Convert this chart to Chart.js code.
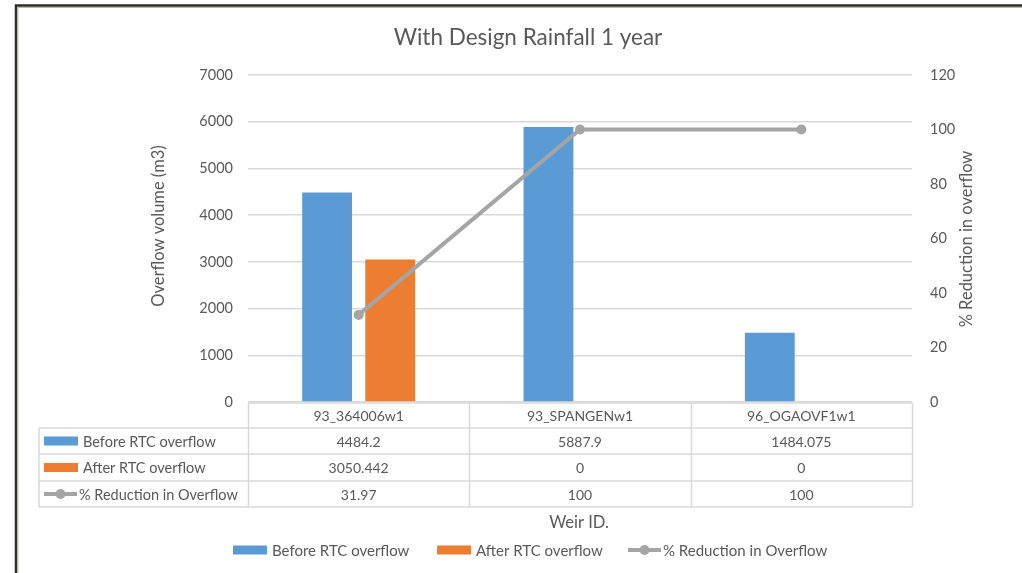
<!DOCTYPE html>
<html>
<head>
<meta charset="utf-8">
<script src="https://cdn.jsdelivr.net/npm/chart.js@4/dist/chart.umd.min.js"></script>
<style>
  html, body { margin: 0; padding: 0; background: #fff; }
  #wrap { width: 1022px; height: 573px; position: relative; }
</style>
</head>
<body>
<div id="wrap"><canvas id="c" width="1022" height="573"></canvas></div>
<script>
// Weir IDs and overflow results
const categories = ['93_364006w1', '93_SPANGENw1', '96_OGAOVF1w1'];
const beforeRTC = [4484.2, 5887.9, 1484.075];
const afterRTC = [3050.442, 0, 0];
const reductionPct = [31.97, 100, 100];

const seriesNames = ['Before RTC overflow', 'After RTC overflow', '% Reduction in Overflow'];
const chartTitle = 'With Design Rainfall 1 year';
const leftAxisTitle = 'Overflow volume (m3)';
const rightAxisTitle = '% Reduction in overflow';
const xAxisTitle = 'Weir ID.';

const BLUE = '#5b9bd5', ORANGE = '#ed7d31', GREY = '#a5a5a5';
const TEXT = '#595959', RULE = '#d9d9d9';
const FONT = 'Lato, "Liberation Sans", sans-serif';

function swatch(ctx, kind, x, y) {
  if (kind === 2) {
    ctx.strokeStyle = GREY; ctx.lineWidth = 4; ctx.lineCap = 'butt';
    ctx.beginPath(); ctx.moveTo(x, y); ctx.lineTo(x + 33, y); ctx.stroke();
    ctx.fillStyle = GREY;
    ctx.beginPath(); ctx.arc(x + 16.5, y, 5, 0, Math.PI * 2); ctx.fill();
  } else {
    ctx.fillStyle = kind === 0 ? BLUE : ORANGE;
    ctx.fillRect(x, y - 4.5, 34, 9);
  }
}

// Data table under the plot, legend, titles and frame
const decorations = {
  id: 'decorations',
  afterDraw(chart) {
    const ctx = chart.ctx;
    const xs = chart.scales.x;
    const area = chart.chartArea;
    const n = categories.length;
    const colW = (area.right - area.left) / n;
    const tableLeft = 39;
    const rows = [area.bottom + 1, 428, 454, 481, 507];
    ctx.save();

    // grid of the table
    ctx.strokeStyle = RULE; ctx.lineWidth = 1.5;
    ctx.beginPath();
    ctx.moveTo(area.left, rows[0]); ctx.lineTo(area.right, rows[0]);
    for (let r = 1; r < rows.length; r++) {
      ctx.moveTo(tableLeft, rows[r]); ctx.lineTo(area.right, rows[r]);
    }
    ctx.moveTo(tableLeft, rows[1]); ctx.lineTo(tableLeft, rows[4]);
    for (let i = 0; i <= n; i++) {
      const x = Math.round(area.left + colW * i) + 0.5;
      ctx.moveTo(x, rows[0]); ctx.lineTo(x, rows[4]);
    }
    ctx.stroke();

    // table text
    ctx.fillStyle = TEXT;
    ctx.font = '14px ' + FONT;
    ctx.textAlign = 'center'; ctx.textBaseline = 'middle';
    const seriesVals = [beforeRTC, afterRTC, reductionPct];
    categories.forEach((c, i) => {
      const cx = xs.getPixelForValue(i);
      ctx.fillText(c, cx, (rows[0] + rows[1]) / 2 + 1);
      seriesVals.forEach((arr, r) => {
        ctx.fillText(String(arr[i]), cx, (rows[r + 1] + rows[r + 2]) / 2 + 1);
      });
    });
    ctx.textAlign = 'left';
    ctx.font = '14.5px ' + FONT;
    seriesNames.forEach((name, r) => {
      const cy = (rows[r + 1] + rows[r + 2]) / 2;
      swatch(ctx, r, 44, cy);
      ctx.fillStyle = TEXT;
      ctx.fillText(name, r === 2 ? 79 : 83, cy + 1);
    });

    // title
    ctx.fillStyle = TEXT;
    ctx.textAlign = 'center';
    ctx.font = '22.5px ' + FONT;
    ctx.fillText(chartTitle, 528, 38);

    // axis titles
    ctx.font = '16.5px ' + FONT;
    ctx.fillText(xAxisTitle, 579, 523);
    ctx.save();
    ctx.translate(159, 226); ctx.rotate(-Math.PI / 2);
    ctx.fillText(leftAxisTitle, 0, 0);
    ctx.restore();
    ctx.save();
    ctx.translate(967, 239); ctx.rotate(-Math.PI / 2);
    ctx.fillText(rightAxisTitle, 0, 0);
    ctx.restore();

    // legend
    ctx.font = '15px ' + FONT;
    ctx.textAlign = 'left';
    const legendY = 550;
    const legendX = [233, 437, 628];
    seriesNames.forEach((name, r) => {
      swatch(ctx, r, legendX[r], legendY);
      ctx.fillStyle = TEXT;
      ctx.fillText(name, legendX[r] + (r === 2 ? 35 : 39), legendY + 1);
    });

    // outer frame
    ctx.strokeStyle = '#2e2e28'; ctx.lineWidth = 2.5;
    ctx.beginPath();
    ctx.moveTo(16, 573); ctx.lineTo(16, 5.5); ctx.lineTo(1022, 5.5);
    ctx.stroke();
    ctx.strokeStyle = '#b8b8b0'; ctx.lineWidth = 1;
    ctx.beginPath();
    ctx.moveTo(18, 573); ctx.lineTo(18, 7.5); ctx.lineTo(1022, 7.5);
    ctx.stroke();
    ctx.restore();
  }
};

const plainTick = v => String(v);

new Chart(document.getElementById('c'), {
  type: 'bar',
  data: {
    labels: categories,
    datasets: [
      {
        type: 'line', label: seriesNames[2], data: reductionPct, yAxisID: 'y2',
        borderColor: GREY, backgroundColor: GREY, borderWidth: 4,
        pointRadius: 5, pointBackgroundColor: GREY, pointBorderWidth: 0,
        tension: 0, order: 0
      },
      { label: seriesNames[0], data: beforeRTC, backgroundColor: BLUE, yAxisID: 'y',
        barPercentage: 0.79, categoryPercentage: 0.57, order: 1 },
      { label: seriesNames[1], data: afterRTC, backgroundColor: ORANGE, yAxisID: 'y',
        barPercentage: 0.79, categoryPercentage: 0.57, order: 1 }
    ]
  },
  options: {
    responsive: false,
    animation: false,
    layout: { padding: { left: 16, right: 50, top: 75, bottom: 171 } },
    plugins: { legend: { display: false }, tooltip: { enabled: false }, title: { display: false } },
    scales: {
      x: { type: 'category', display: false, offset: true },
      y: {
        position: 'left', min: 0, max: 7000,
        ticks: { stepSize: 1000, padding: 15, color: TEXT, font: { family: FONT, size: 14.5 }, callback: plainTick },
        grid: { color: RULE, lineWidth: 1.5, drawTicks: false },
        border: { display: false },
        afterFit(s) { s.width = 232; }
      },
      y2: {
        position: 'right', min: 0, max: 120,
        ticks: { stepSize: 20, padding: 18, color: TEXT, font: { family: FONT, size: 14.5 }, callback: plainTick },
        grid: { display: false, drawTicks: false },
        border: { display: false },
        afterFit(s) { s.width = 60; }
      }
    }
  },
  plugins: [decorations]
});
</script>
</body>
</html>
